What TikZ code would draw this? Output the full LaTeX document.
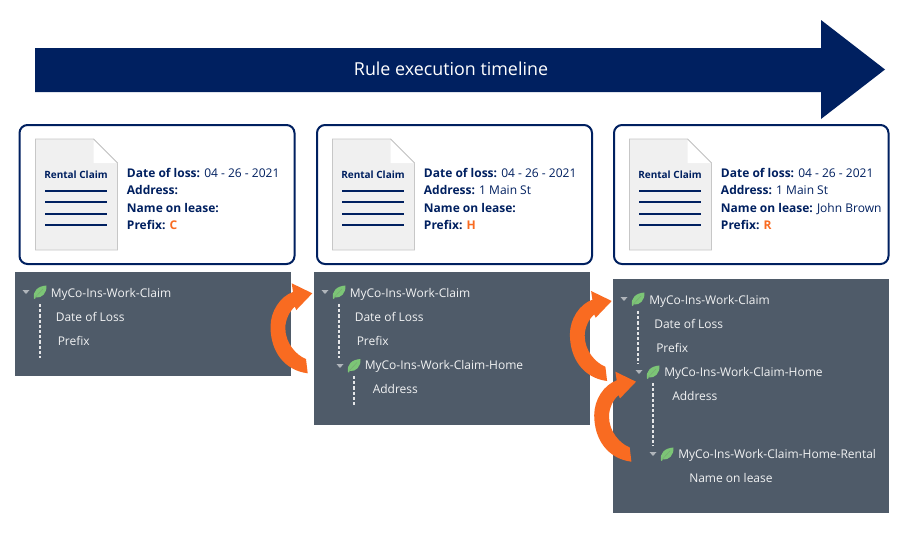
\documentclass[tikz,border=0pt]{standalone}
\usepackage{fontspec}
\setmainfont{Open Sans}
\definecolor{navy}{HTML}{002060}
\definecolor{slatebg}{HTML}{4F5B69}
\definecolor{flame}{HTML}{F96B21}
\definecolor{leafgreen}{HTML}{7CC576}
\definecolor{papergray}{HTML}{F0F0F0}
\tikzset{
  x=0.75pt,y=-0.75pt,
  card/.style={draw=navy,line width=1.5pt,fill=white,rounded corners=6pt},
  panel/.style={fill=slatebg,draw=none},
  treetext/.style={anchor=west,text=white!92!slatebg,font=\fontsize{9}{11}\selectfont,inner sep=0pt,text height=8pt,text depth=0pt},
  info/.style={anchor=north west,text=navy,font=\fontsize{9}{12.9}\selectfont,inner sep=0pt,align=left},
  dashline/.style={draw=white!85!slatebg,line width=0.8pt,dash pattern=on 2.4pt off 1.5pt},
  doc/.style={fill=papergray,draw=black!22,line width=0.7pt},
  rulenavy/.style={draw=navy,line width=1.2pt},
  curl/.pic={\fill[flame] (0,0) -- (-20.6,-10) -- (-19.3,-1.3) .. controls (-32,3) and (-41.8,18) .. (-41.8,33.4)
     .. controls (-41.8,58) and (-28,77) .. (-4.6,80) -- (-6.3,65.7) .. controls (-16,62) and (-27,50) .. (-27,34.7)
     .. controls (-27,27) and (-23,18) .. (-17.5,13.4) -- (-16,16.7) -- cycle;},
  caret/.pic={\fill[white!55!slatebg] (-3.5,-2) -- (3.5,-2) -- (0,2) -- cycle;},
  leaf/.pic={\fill[leafgreen] (-6,6.5) .. controls (-7.5,-1) and (-2,-6) .. (6.5,-6.5) .. controls (7,1) and (2,6.5) .. (-4.5,5.5) -- (-5,7) -- cycle;
     \draw[white!20!leafgreen!80!black,line width=0.35pt] (-4.5,5) -- (3,-3);},
}
\newcommand{\claimcard}[6]{%
  \draw[card] (#1,125) rectangle (#2,264);
  \begin{scope}[shift={(#3,0)}]
    \draw[doc] (0,139) -- (58,139) -- (82,163) -- (82,250) -- (0,250) -- cycle;
    \fill[white] (58,139) -- (58,163) -- (82,163) -- cycle;
    \draw[black!22,line width=0.7pt] (58,139) -- (82,163);
    \node[anchor=center,text=navy,font=\bfseries\fontsize{7.5}{9}\selectfont,inner sep=0pt] (#6) at (40.5,175) {Rental Claim};
    \foreach \yy in {191,202,214,225} \draw[rulenavy] (9.5,\yy) -- (71.5,\yy);
  \end{scope}
  #4
}
\begin{document}
\begin{tikzpicture}
\useasboundingbox (0,0) rectangle (922,550);
\fill[white] (0,0) rectangle (922,550);
% timeline
\fill[navy] (35,48) -- (821,48) -- (821,20) -- (885,69.5) -- (821,119) -- (821,92) -- (35,92) -- cycle;
\node[text=white,font=\fontsize{13.4}{15}\selectfont,inner sep=0pt] (timeline) at (451,69) {Rule execution timeline};
% cards
\claimcard{19.5}{294.5}{35.5}{\node[info] (infoa) at (126.7,168.3) {\textbf{Date of loss:} 04 - 26 - 2021\\\textbf{Address:}\\\textbf{Name on lease:}\\\textbf{Prefix: \textcolor{flame}{C}}};}{}{doca}
\claimcard{317}{592}{332.5}{\node[info] (infob) at (423.7,168.3) {\textbf{Date of loss:} 04 - 26 - 2021\\\textbf{Address:} 1 Main St\\\textbf{Name on lease:}\\\textbf{Prefix: \textcolor{flame}{H}}};}{}{docb}
\claimcard{614}{888.5}{629.5}{\node[info] (infoc) at (720.7,168.3) {\textbf{Date of loss:} 04 - 26 - 2021\\\textbf{Address:} 1 Main St\\\textbf{Name on lease:} John Brown\\\textbf{Prefix: \textcolor{flame}{R}}};}{}{docc}
% panels
\fill[panel] (15,272) rectangle (291,376);
\fill[panel] (314,272) rectangle (590,425);
\fill[panel] (613,279) rectangle (889,513);
% tree 1
\pic at (26,292) {caret}; \pic at (40,292) {leaf};
\node[treetext] (a1) at (50.5,292.5) {MyCo-Ins-Work-Claim};
\node[treetext] (a2) at (55.5,316.5) {Date of Loss};
\node[treetext] (a3) at (57.5,340.5) {Prefix};
\coordinate (a4) at (40,304); \coordinate (a5) at (40,358);
\draw[dashline] (a4) -- (a5);
% tree 2
\pic at (325,292) {caret}; \pic at (339,292) {leaf};
\node[treetext] (b1) at (349.5,292.5) {MyCo-Ins-Work-Claim};
\node[treetext] (b2) at (354.5,316.5) {Date of Loss};
\node[treetext] (b3) at (356.5,340.5) {Prefix};
\node[treetext] (b4) at (364.5,364.5) {MyCo-Ins-Work-Claim-Home};
\node[treetext] (b5) at (372.5,388.5) {Address};
\pic at (340,366) {caret}; \pic at (354,365.5) {leaf};
\coordinate (b6) at (339,304); \coordinate (b7) at (339,358);
\coordinate (b8) at (354,376); \coordinate (b9) at (354,405);
\draw[dashline] (b6) -- (b7);
\draw[dashline] (b8) -- (b9);
% tree 3
\pic at (624,299) {caret}; \pic at (638,299) {leaf};
\node[treetext] (c1) at (649,299.5) {MyCo-Ins-Work-Claim};
\node[treetext] (c2) at (654,323.5) {Date of Loss};
\node[treetext] (c3) at (656,347.5) {Prefix};
\node[treetext] (c4) at (664,371.5) {MyCo-Ins-Work-Claim-Home};
\node[treetext] (c5) at (672,395.5) {Address};
\node[treetext] (c6) at (678,453.5) {MyCo-Ins-Work-Claim-Home-Rental};
\node[treetext] (c7) at (689,477.5) {Name on lease};
\pic at (639,372) {caret}; \pic at (653,372) {leaf};
\pic at (653,454) {caret}; \pic at (667,454) {leaf};
\coordinate (c8) at (638,311); \coordinate (c9) at (638,364);
\coordinate (c10) at (653,383); \coordinate (c11) at (653,446);
\draw[dashline] (c8) -- (c9);
\draw[dashline] (c10) -- (c11);
% curved arrows
\pic at (312.3,293.3) {curl};
\pic at (611.7,301) {curl};
\pic at (636,381.7) {curl};
\end{tikzpicture}
\end{document}
